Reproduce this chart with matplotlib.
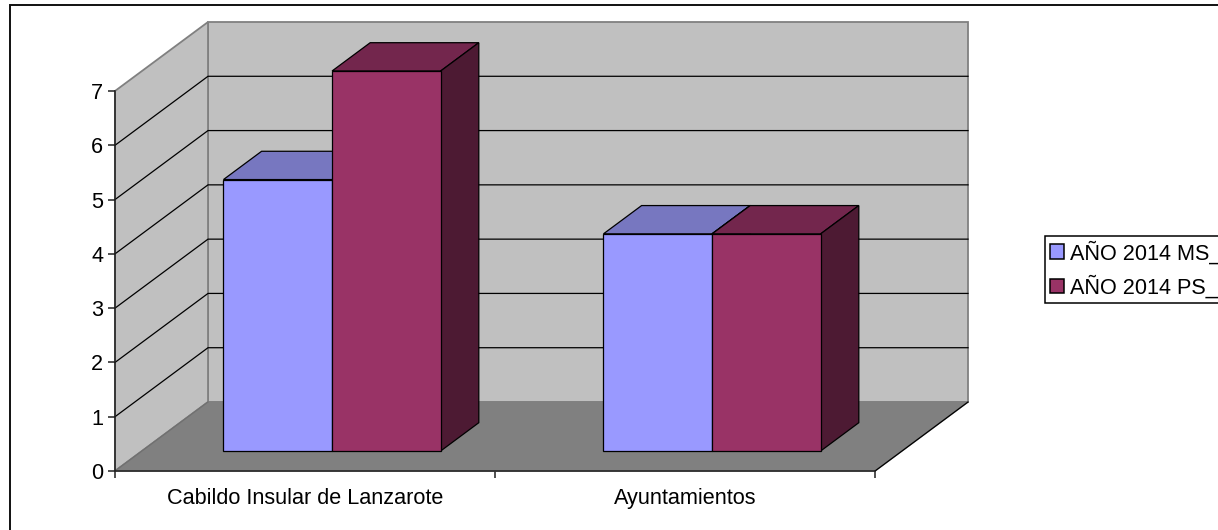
import matplotlib
matplotlib.use('Agg')
import matplotlib.pyplot as plt
from matplotlib.patches import Polygon, Rectangle

plt.rcParams['font.family'] = ['Liberation Sans', 'DejaVu Sans']

categorias = ['Cabildo Insular de Lanzarote', 'Ayuntamientos']
serie_ms = [5, 4]
serie_ps = [7, 4]
nombres = ['AÑO 2014 MS_', 'AÑO 2014 PS_']
ticks_y = [0, 1, 2, 3, 4, 5, 6, 7]

W, H = 1218, 530
fig = plt.figure(figsize=(W / 100, H / 100), dpi=100, facecolor='white')

# eixos em pixels da imagem
x0, x1, y0, y7 = 115, 875, 471, 91
ax = fig.add_axes([x0 / W, 1 - y0 / H, (x1 - x0) / W, (y0 - y7) / H])
ax.set_xlim(0, 2)
ax.set_ylim(0, 7)
ax.patch.set_visible(False)

# deslocamento da profundidade 3D em unidades de dados
dx = 93 / 380
dy = 69 / (380 / 7)
lw = 0.9


def proj(x, y, d):
    return (x + d * dx, y + d * dy)


def poly(pts, cor, borda, z, lw_=lw):
    ax.add_patch(Polygon(pts, closed=True, facecolor=cor, edgecolor=borda, linewidth=lw_,
                         zorder=z, clip_on=False, joinstyle='miter'))


# paredes e chao
poly([proj(0, 0, 1), proj(2, 0, 1), proj(2, 7, 1), proj(0, 7, 1)], '#C0C0C0', '#808080', 1, 1.3)
poly([proj(0, 0, 0), proj(0, 0, 1), proj(0, 7, 1), proj(0, 7, 0)], '#C0C0C0', '#808080', 1, 1.3)
poly([proj(0, 0, 0), proj(2, 0, 0), proj(2, 0, 1), proj(0, 0, 1)], '#808080', '#808080', 2, 1.1)

# grade
for v in ticks_y[1:-1]:
    a = proj(0, v, 0)
    b = proj(0, v, 1)
    c = proj(2, v, 1)
    ax.plot([a[0], b[0], c[0]], [a[1], b[1], c[1]], color='black', lw=lw, zorder=3, clip_on=False)

# linha do chao na frente direita
a = proj(2, 0, 0)
b = proj(2, 0, 1)
ax.plot([a[0], b[0]], [a[1], b[1]], color='black', lw=lw, zorder=3, clip_on=False)
a = proj(0, 0, 0)
b = proj(0, 0, 1)
ax.plot([a[0], b[0]], [a[1], b[1]], color='#707070', lw=lw, zorder=3, clip_on=False)

# barras
larg = 108.6 / 380
folga = 81.5 / 380
d_frente = 0.29
d_fundo = 0.70
estilos = [('#9999FF', '#7777C0', '#4D4D80'), ('#993366', '#73264D', '#4D1A33')]
z = 4
for i in range(len(categorias)):
    for j, vals in enumerate([serie_ms, serie_ps]):
        esq = i + folga + j * larg
        dir_ = esq + larg
        v = vals[i]
        frente, topo, lado = estilos[j]
        poly([proj(esq, 0, d_frente), proj(dir_, 0, d_frente), proj(dir_, v, d_frente), proj(esq, v, d_frente)], frente, 'black', z + 2)
        poly([proj(esq, v, d_frente), proj(dir_, v, d_frente), proj(dir_, v, d_fundo), proj(esq, v, d_fundo)], topo, 'black', z)
        poly([proj(dir_, 0, d_frente), proj(dir_, 0, d_fundo), proj(dir_, v, d_fundo), proj(dir_, v, d_frente)], lado, 'black', z + 1)
        z += 3

# eixos
for s in ['top', 'right']:
    ax.spines[s].set_visible(False)
for s in ['left', 'bottom']:
    ax.spines[s].set_linewidth(1.1)
    ax.spines[s].set_color('#202020')
    ax.spines[s].set_zorder(50)
ax.set_yticks(ticks_y)
ax.set_xticks([0, 1, 2])
ax.set_xticklabels([])
ax.set_xticks([0.5, 1.5], minor=True)
ax.set_xticklabels(categorias, minor=True)
ax.tick_params(axis='x', which='minor', length=0, pad=12.5, labelsize=15.6)
ax.tick_params(axis='x', which='major', length=5, width=1.1, color='#202020')
ax.tick_params(axis='y', length=5, width=1.1, color='#202020', pad=3.5, labelsize=15.6)

# moldura externa (cortada embaixo e a direita)
fig.add_artist(Rectangle((10 / W, 1 - 560 / H), 1260 / W, 555 / H, transform=fig.transFigure,
                         facecolor='none', edgecolor='#101010', linewidth=1.4, zorder=0))

# legenda
hs = [Rectangle((0, 0), 1, 1, facecolor=estilos[k][0], edgecolor='black', linewidth=1.1) for k in range(2)]
leg = fig.legend(hs, nombres, loc='upper left', bbox_to_anchor=(1045 / W, 1 - 236 / H),
                 bbox_transform=fig.transFigure, fontsize=15.6, frameon=True, fancybox=False,
                 edgecolor='black', framealpha=1, borderpad=0.22, borderaxespad=0, handlelength=0.65,
                 handleheight=0.65, handletextpad=0.3, labelspacing=0.5)
leg.get_frame().set_linewidth(1.1)

fig.savefig('out.png', dpi=100)
